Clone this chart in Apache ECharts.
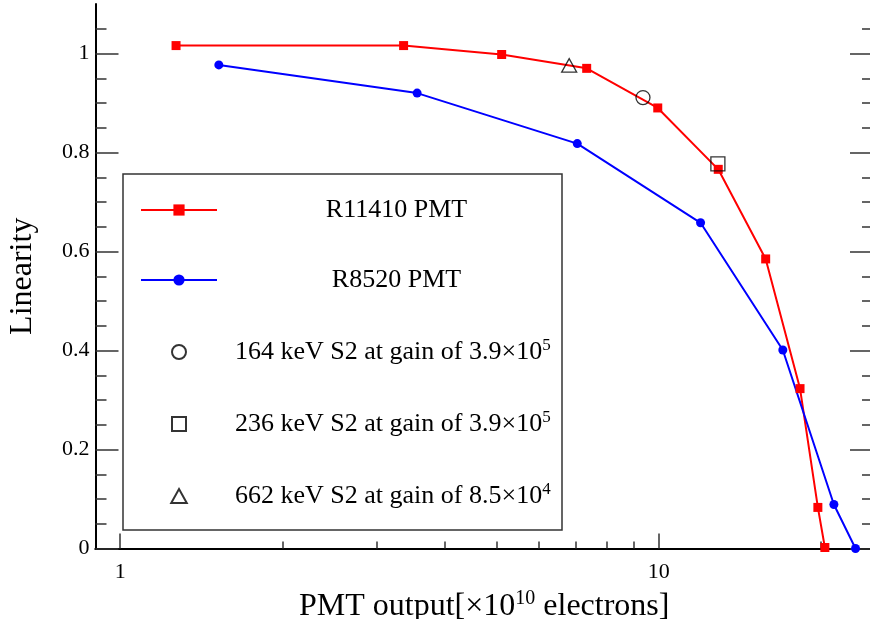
<!DOCTYPE html>
<html>
<head>
<meta charset="utf-8">
<script src="https://cdn.jsdelivr.net/npm/echarts@6/dist/echarts.min.js"></script>
<style>
html,body{margin:0;padding:0;background:#fff;}
#chart{width:870px;height:619px;}
</style>
</head>
<body>
<div id="chart"></div>
<script>
// ---- data ----
const r11410X = [1.27, 3.36, 5.11, 7.35, 9.96, 12.9, 15.8, 18.3, 19.75, 20.35];
const r11410Y = [1.016, 1.016, 0.998, 0.970, 0.890, 0.766, 0.585, 0.323, 0.083, 0.002];
const r8520X = [1.525, 3.56, 7.06, 11.96, 17.0, 21.15, 23.2];
const r8520Y = [0.977, 0.920, 0.818, 0.658, 0.401, 0.089, 0.0];
const kev164 = [[9.35, 0.911]];
const kev236 = [[12.88, 0.777]];
const kev662 = [[6.82, 0.976]];
const seriesNames = ['R11410 PMT', 'R8520 PMT',
  '164 keV S2 at gain of 3.9×10^5', '236 keV S2 at gain of 3.9×10^5', '662 keV S2 at gain of 8.5×10^4'];
const xMajorTicks = [1, 10];
const xMinorTicks = [2, 3, 4, 5, 6, 7, 8, 9, 20];
const yMajorTicks = [0, 0.2, 0.4, 0.6, 0.8, 1.0];
const yMinorTicks = [0.05, 0.1, 0.15, 0.25, 0.3, 0.35, 0.45, 0.5, 0.55, 0.65, 0.7, 0.75, 0.85, 0.9, 0.95, 1.05];

const FONT = 'Liberation Serif';
const zip = (xs, ys) => xs.map((x, i) => [x, ys[i]]);
const SQUARE = 'path://M0,0L10,0L10,10L0,10Z';
const TRIANGLE = 'path://M5,0L10,9L0,9Z';

const chart = echarts.init(document.getElementById('chart'), null, {renderer: 'canvas'});

const grid = {left: 95.5, top: 4, width: 777.5, height: 544.5, containLabel: false, outerBoundsMode: 'none'};
const xBase = {type: 'log', logBase: 10, min: 0.9, max: 25, gridIndex: 0, splitLine: {show: false}};
const yBase = {type: 'value', min: 0, max: 1.1, gridIndex: 0, splitLine: {show: false}};
const axLine = {show: true, lineStyle: {color: '#000', width: 2}};
const tickStyle = {color: '#333', width: 1.5};

const option = {
  animation: false,
  backgroundColor: '#fff',
  textStyle: {fontFamily: FONT},
  grid: grid,
  xAxis: [
    Object.assign({}, xBase, {
      position: 'bottom',
      axisLine: axLine,
      axisTick: {show: true, inside: true, length: 15, customValues: xMajorTicks, lineStyle: tickStyle},
      axisLabel: {show: true, customValues: xMajorTicks, margin: 13, fontSize: 22, color: '#000', fontFamily: FONT,
        formatter: v => String(v)},
      name: 'PMT output[×10{sup|10} electrons]',
      nameLocation: 'middle',
      nameGap: 27,
      nameTextStyle: {fontSize: 32, color: '#000', fontFamily: FONT, lineHeight: 36,
        rich: {sup: {fontSize: 20, verticalAlign: 'top', lineHeight: 20, fontFamily: FONT, color: '#000'}}}
    }),
    Object.assign({}, xBase, {
      position: 'bottom',
      axisLine: {show: false},
      axisTick: {show: true, inside: true, length: 7, customValues: xMinorTicks, lineStyle: tickStyle},
      axisLabel: {show: false}
    }),
    Object.assign({}, xBase, {
      position: 'top',
      axisLine: axLine,
      axisTick: {show: false},
      axisLabel: {show: false}
    })
  ],
  yAxis: [
    Object.assign({}, yBase, {
      position: 'left',
      axisLine: axLine,
      axisTick: {show: true, inside: true, length: 23, customValues: yMajorTicks, lineStyle: tickStyle},
      axisLabel: {show: true, customValues: yMajorTicks, margin: 6, fontSize: 22, color: '#000', fontFamily: FONT,
        formatter: v => String(Math.round(v * 10) / 10)},
      name: 'Linearity',
      nameLocation: 'middle',
      nameGap: 57,
      nameTextStyle: {fontSize: 32, color: '#000', fontFamily: FONT}
    }),
    Object.assign({}, yBase, {
      position: 'left',
      axisLine: {show: false},
      axisTick: {show: true, inside: true, length: 11, customValues: yMinorTicks, lineStyle: tickStyle},
      axisLabel: {show: false}
    }),
    Object.assign({}, yBase, {
      position: 'right',
      axisLine: axLine,
      axisTick: {show: true, inside: true, length: 23, customValues: yMajorTicks, lineStyle: tickStyle},
      axisLabel: {show: false}
    }),
    Object.assign({}, yBase, {
      position: 'right',
      axisLine: {show: false},
      axisTick: {show: true, inside: true, length: 11, customValues: yMinorTicks, lineStyle: tickStyle},
      axisLabel: {show: false}
    })
  ],
  legend: {
    show: true,
    orient: 'vertical',
    left: 123,
    top: 174,
    padding: [23, 4, 21, 17],
    itemGap: 44,
    itemWidth: 76,
    itemHeight: 14,
    symbolKeepAspect: true,
    borderColor: '#333',
    borderWidth: 1.5,
    backgroundColor: '#fff',
    inactiveColor: '#000',
    selectedMode: false,
    data: seriesNames,
    formatter: function (name) {
      const i = seriesNames.indexOf(name);
      if (i < 2) return '{c|' + name + '}';
      const parts = name.split('^');
      return '{l|' + parts[0] + '}{sup|' + parts[1] + '}';
    },
    textStyle: {
      fontFamily: FONT, fontSize: 26, color: '#000', padding: [0, 0, 0, 13],
      rich: {
        c: {width: 323, align: 'center', fontSize: 26, lineHeight: 30, fontFamily: FONT, color: '#000'},
        l: {fontSize: 26, lineHeight: 30, fontFamily: FONT, color: '#000'},
        sup: {fontSize: 17, lineHeight: 17, verticalAlign: 'top', fontFamily: FONT, color: '#000'}
      }
    }
  },
  series: [
    {
      name: seriesNames[0], type: 'line', xAxisIndex: 0, yAxisIndex: 0,
      data: zip(r11410X, r11410Y),
      symbol: 'rect', symbolSize: 9,
      lineStyle: {color: '#ff0000', width: 2},
      itemStyle: {color: '#ff0000'},
      z: 3
    },
    {
      name: seriesNames[1], type: 'line', xAxisIndex: 0, yAxisIndex: 0,
      data: zip(r8520X, r8520Y),
      symbol: 'circle', symbolSize: 9,
      lineStyle: {color: '#0000ff', width: 2},
      itemStyle: {color: '#0000ff'},
      z: 3
    },
    {
      name: seriesNames[2], type: 'scatter', xAxisIndex: 0, yAxisIndex: 0,
      data: kev164, symbol: 'circle', symbolSize: 14, symbolKeepAspect: true,
      itemStyle: {color: 'rgba(255,255,255,0)', borderColor: '#000', borderWidth: 1.3},
      z: 4
    },
    {
      name: seriesNames[3], type: 'scatter', xAxisIndex: 0, yAxisIndex: 0,
      data: kev236, symbol: SQUARE, symbolSize: 14, symbolKeepAspect: true,
      itemStyle: {color: 'rgba(255,255,255,0)', borderColor: '#000', borderWidth: 1.3},
      z: 4
    },
    {
      name: seriesNames[4], type: 'scatter', xAxisIndex: 0, yAxisIndex: 0,
      data: kev662, symbol: TRIANGLE, symbolSize: 15, symbolKeepAspect: true,
      itemStyle: {color: 'rgba(255,255,255,0)', borderColor: '#000', borderWidth: 1.3},
      z: 4
    }
  ]
};
chart.setOption(option);
</script>
</body>
</html>
